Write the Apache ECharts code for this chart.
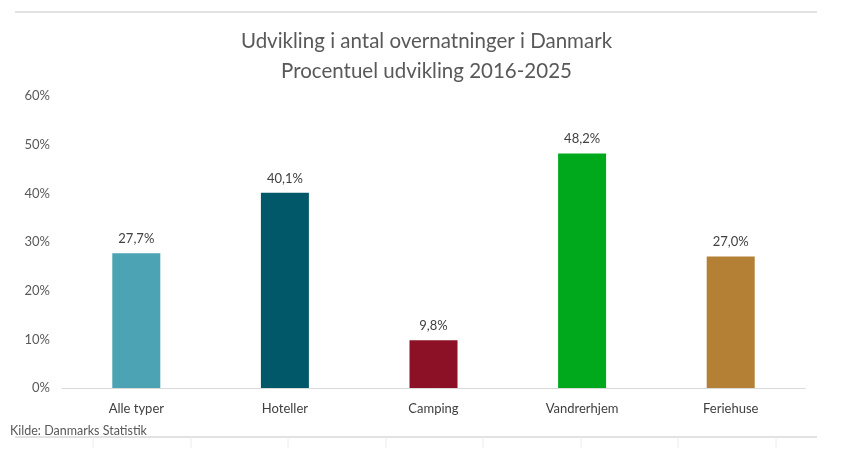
<!DOCTYPE html>
<html>
<head>
<meta charset="utf-8">
<script src="https://cdn.jsdelivr.net/npm/echarts@6/dist/echarts.min.js"></script>
<style>
  html, body { margin: 0; padding: 0; background: #fff; }
  #chart { width: 853px; height: 462px; }
</style>
</head>
<body>
<div id="chart"></div>
<script>
// data
const categories = ['Alle typer', 'Hoteller', 'Camping', 'Vandrerhjem', 'Feriehuse'];
const values = [27.7, 40.1, 9.8, 48.2, 27.0];
const barColors = ['#4BA3B4', '#015868', '#8C1127', '#00A91C', '#B48035'];
const yTicks = [0, 10, 20, 30, 40, 50, 60];

const font = 'Lato, "Open Sans", sans-serif';

const chart = echarts.init(document.getElementById('chart'));

// little ticks under the bottom border (table cell edges in the source)
const cellEdges = [93, 191, 288, 386, 483, 581, 678, 776];

chart.setOption({
  animation: false,
  title: {
    text: 'Udvikling i antal overnatninger i Danmark\nProcentuel udvikling 2016-2025',
    left: 'center',
    top: 21,
    textStyle: {
      fontFamily: font,
      fontSize: 20.5,
      fontWeight: 'normal',
      color: '#595959',
      lineHeight: 30
    }
  },
  grid: { left: 62, right: 48, top: 96, bottom: 74 },
  xAxis: {
    type: 'category',
    data: categories,
    axisLine: { lineStyle: { color: '#d9d9d9', width: 1 } },
    axisTick: { show: false },
    axisLabel: {
      fontFamily: font,
      fontSize: 13,
      color: '#404040',
      margin: 14
    }
  },
  yAxis: {
    type: 'value',
    min: yTicks[0],
    max: yTicks[yTicks.length - 1],
    interval: 10,
    axisLine: { show: false },
    axisTick: { show: false },
    splitLine: { show: false },
    axisLabel: {
      fontFamily: font,
      fontSize: 13,
      color: '#595959',
      margin: 12,
      formatter: v => v + '%'
    }
  },
  series: [{
    type: 'bar',
    barWidth: 48,
    data: values.map((v, i) => ({ value: v, itemStyle: { color: barColors[i] } })),
    label: {
      show: true,
      position: 'top',
      distance: 8,
      fontFamily: font,
      fontSize: 13,
      color: '#404040',
      formatter: p => p.value.toFixed(1).replace('.', ',') + '%'
    }
  }],
  graphic: [
    {
      type: 'line',
      shape: { x1: 15, y1: 12, x2: 817, y2: 12 },
      style: { stroke: '#d9d9d9', lineWidth: 1.5 }
    },
    {
      type: 'line',
      shape: { x1: 15, y1: 437, x2: 817, y2: 437 },
      style: { stroke: '#d9d9d9', lineWidth: 1.5 }
    },
    ...cellEdges.map(x => ({
      type: 'line',
      shape: { x1: x, y1: 437, x2: x, y2: 448 },
      style: { stroke: '#ececec', lineWidth: 1 }
    })),
    {
      type: 'text',
      left: 10,
      top: 424,
      style: {
        text: 'Kilde: Danmarks Statistik',
        fontFamily: font,
        fontSize: 12.5,
        fill: '#595959'
      }
    }
  ]
});
</script>
</body>
</html>
